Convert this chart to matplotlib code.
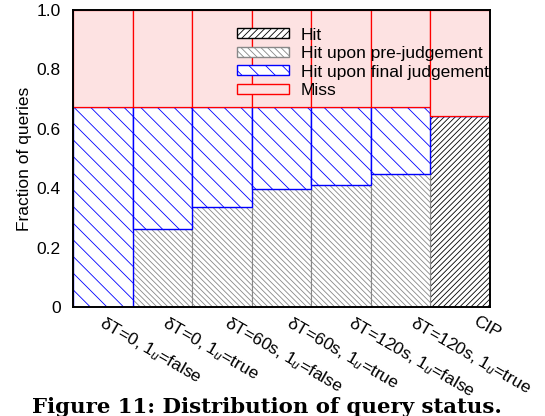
import numpy as np
import matplotlib.pyplot as plt
from matplotlib.patches import Patch

plt.rcParams['font.family'] = ['Liberation Sans', 'DejaVu Sans']
plt.rcParams['hatch.linewidth'] = 0.6
plt.rcParams['mathtext.fontset'] = 'custom'
plt.rcParams['mathtext.rm'] = 'Liberation Sans'
plt.rcParams['mathtext.it'] = 'Liberation Sans:italic'

labels = [r'δT=0, 1$_u$=false', r'δT=0, 1$_u$=true',
          r'δT=60s, 1$_u$=false', r'δT=60s, 1$_u$=true',
          r'δT=120s, 1$_u$=false', r'δT=120s, 1$_u$=true', 'CIP']
hit = [0, 0, 0, 0, 0, 0, 0.644]
pre_judge = [0, 0.262, 0.337, 0.397, 0.41, 0.448, 0]
final_judge = [0.673, 0.411, 0.336, 0.276, 0.263, 0.226, 0]

hit = np.array(hit)
pre_judge = np.array(pre_judge)
final_judge = np.array(final_judge)
miss = 1 - hit - pre_judge - final_judge

fig = plt.figure(figsize=(5.45, 4.16), dpi=100)
ax = fig.add_axes([0.134, 0.262, 0.765, 0.714])
x = np.arange(len(labels))

ax.bar(x, hit, width=1, color='white', edgecolor='black', hatch='/' * 6, linewidth=0.8)
ax.bar(x, pre_judge, width=1, bottom=hit, color='white', edgecolor='#888888', hatch='\\' * 6, linewidth=0.8)
ax.bar(x, final_judge, width=1, bottom=hit + pre_judge, color='white', edgecolor='blue', hatch='\\' * 2, linewidth=1.0)
ax.bar(x, miss, width=1, bottom=hit + pre_judge + final_judge, color='#fde2e2', edgecolor='red', linewidth=0.9)

ax.set_xlim(-0.5, len(labels) - 0.5)
ax.set_ylim(0, 1.0)
ax.set_yticks([0, 0.2, 0.4, 0.6, 0.8, 1.0])
ax.set_yticklabels(['0', '0.2', '0.4', '0.6', '0.8', '1.0'], fontsize=12.5)
ax.set_ylabel('Fraction of queries', fontsize=12.5, labelpad=3)
# labels drift right a little, like gnuplot's rotated xtics
ax.set_xticks(x * 1.042 + 0.05)
ax.set_xticklabels(labels, rotation=-30, ha='left', rotation_mode='anchor', fontsize=12.5)
ax.tick_params(axis='x', length=0, pad=5)
ax.tick_params(axis='y', length=0, pad=9)
for s in ax.spines.values():
    s.set_linewidth(1.4)

handles = [Patch(facecolor='white', edgecolor='black', hatch='/' * 5),
           Patch(facecolor='white', edgecolor='#888888', hatch='\\' * 5),
           Patch(facecolor='white', edgecolor='blue', hatch='\\' * 2),
           Patch(facecolor='#fde2e2', edgecolor='red')]
ax.legend(handles, ['Hit', 'Hit upon pre-judgement', 'Hit upon final judgement', 'Miss'],
          loc='upper left', bbox_to_anchor=(0.373, 0.97), frameon=False, fontsize=12.5,
          borderpad=0, handlelength=3.0, handleheight=0.5, labelspacing=0.2,
          handletextpad=0.65)

fig.text(0.49, 0.008, 'Figure 11: Distribution of query status.', ha='center', va='baseline',
         fontsize=15.3, fontweight='bold', family='DejaVu Serif')

fig.savefig('out.png', dpi=100)
